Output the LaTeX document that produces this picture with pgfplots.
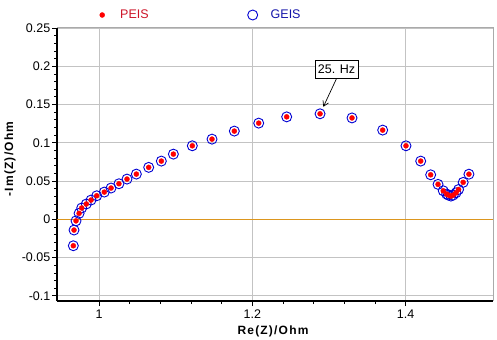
\documentclass[border=0pt]{standalone}
\usepackage{pgfplots}
\usepackage{pgfplotstable}
\pgfplotsset{compat=1.18}
\usepackage{fontspec}
\setmainfont{Liberation Sans}
\usetikzlibrary{arrows.meta}
\definecolor{zeroline}{RGB}{220,150,30}
\definecolor{peis}{RGB}{255,0,0}
\definecolor{peistext}{RGB}{205,20,40}
\definecolor{geis}{RGB}{0,0,210}
\definecolor{geistext}{RGB}{20,20,170}
\definecolor{gridc}{RGB}{195,195,195}
\definecolor{framec}{RGB}{170,170,170}

\pgfplotstableread{
x y
0.9665 -0.0345
0.9674 -0.0140
0.9700 -0.0020
0.9740 0.0078
0.9774 0.0148
0.9834 0.0200
0.9896 0.0252
0.9970 0.0308
1.0069 0.0356
1.0157 0.0409
1.0260 0.0465
1.0365 0.0526
1.0487 0.0591
1.0648 0.0679
1.0813 0.0761
1.0970 0.0852
1.1217 0.0961
1.1474 0.1048
1.1765 0.1153
1.2083 0.1257
1.2448 0.1339
1.2883 0.1379
1.3300 0.1325
1.3700 0.1166
1.4004 0.0961
1.4196 0.0761
1.4326 0.0582
1.4422 0.0457
1.4490 0.0373
1.4535 0.0330
1.4556 0.0317
1.4590 0.0304
1.4620 0.0317
1.4657 0.0347
1.4690 0.0390
1.4750 0.0483
1.4825 0.0590
}\datatable

\begin{document}
\begin{tikzpicture}
\path[use as bounding box] (-57bp,-39bp) rectangle (440bp,301bp);
\begin{axis}[
  at={(0,0)}, anchor=south west,
  scale only axis, width=436bp, height=273bp,
  xmin=0.9452, xmax=1.5139, ymin=-0.1067, ymax=0.25,
  axis lines*=left,
  axis line style={-, line width=1.2bp, black},
  tick align=outside,
  major tick length=5bp, minor tick length=3bp,
  tick style={black, line width=0.8bp},
  xtick={1,1.2,1.4}, xticklabels={1,1.2,1.4},
  minor x tick num=4,
  ytick={-0.1,-0.05,0,0.05,0.1,0.15,0.2,0.25},
  yticklabels={-0.1,-0.05,0,0.05,0.1,0.15,0.2,0.25},
  minor y tick num=4,
  grid=major,
  major grid style={gridc, line width=0.8bp},
  ticklabel style={font=\fontsize{12.5bp}{14bp}\selectfont},
  yticklabel style={inner sep=1.5bp},
  xticklabel style={inner sep=4bp},
  xlabel={Re(Z)/Ohm},
  ylabel={-Im(Z)/Ohm},
  label style={font=\fontsize{12bp}{14bp}\selectfont\bfseries\addfontfeature{LetterSpace=10}},
  xlabel style={at={(axis description cs:0.4954,-0.113)}, anchor=center},
  ylabel style={at={(axis description cs:-0.108,0.52)}, anchor=center},
  legend columns=2, reverse legend,
  legend style={draw=none, fill=none, inner sep=0pt,
    at={(axis description cs:0.0849,1.0476)}, anchor=west,
    nodes={inner sep=0pt, font=\fontsize{12.5bp}{14bp}\selectfont},
    /tikz/every even column/.append style={column sep=96bp},
    /tikz/every odd column/.append style={column sep=10bp}},
  legend image code/.code={\path[draw=none,fill=none] (-8bp,0bp) -- (8bp,0bp); \draw[#1] plot coordinates {(0bp,0bp)};},
  clip=false,
]
\draw[zeroline, line width=1bp] (axis cs:0.9452,0) -- (axis cs:1.5139,0);
\draw[framec, line width=1bp] (rel axis cs:0,1) -- (rel axis cs:1,1) -- (rel axis cs:1,0);
\addplot[only marks, mark=o, mark size=5bp, geis, mark options={line width=0.9bp}] table[x=x,y=y] {\datatable};
\addlegendentry{\textcolor{geistext}{GEIS}}
\addplot[only marks, mark=*, mark size=2.5bp, peis] table[x=x,y=y] {\datatable};
\addlegendentry{\textcolor{peistext}{PEIS}}
\node[draw=black, fill=white, line width=0.8bp, inner sep=0pt, minimum width=43bp, minimum height=18bp,
  font=\fontsize{12.5bp}{14bp}\selectfont] (lab) at (axis cs:1.3098,0.1962) {25. Hz};
\draw[-{Straight Barb[length=5bp,width=6bp]}, line width=0.7bp] (lab.south) -- (axis cs:1.2926,0.147);
\end{axis}
\end{tikzpicture}
\end{document}
